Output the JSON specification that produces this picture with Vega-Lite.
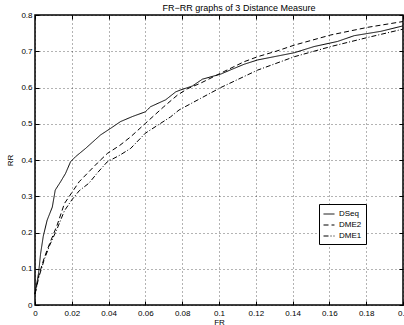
{
  "$schema": "https://vega.github.io/schema/vega-lite/v6.json",
  "width": 368,
  "height": 290,
  "autosize": {"type": "none"},
  "padding": {"left": 35, "top": 15, "right": 1, "bottom": 20},
  "background": "white",
  "config": {
    "font": "Liberation Sans",
    "view": {"stroke": "black", "strokeWidth": 1.5},
    "axis": {"labelFontSize": 8, "titleFontSize": 8, "titleFontWeight": "normal", "labelColor": "black", "titleColor": "black", "labelFlush": false}
  },
  "title": {"text": "FR\u2212RR graphs of 3 Distance Measure", "fontSize": 9, "fontWeight": "normal", "offset": -2, "dx": 20, "color": "black"},
  "data": {"values": [
    {"fr":0,"rr":0.03,"m":"DSeq"},{"fr":0.001,"rr":0.06,"m":"DSeq"},{"fr":0.002,"rr":0.09,"m":"DSeq"},{"fr":0.003,"rr":0.14,"m":"DSeq"},{"fr":0.0045,"rr":0.19,"m":"DSeq"},{"fr":0.0066,"rr":0.234,"m":"DSeq"},{"fr":0.0094,"rr":0.27,"m":"DSeq"},{"fr":0.011,"rr":0.317,"m":"DSeq"},{"fr":0.0139,"rr":0.34,"m":"DSeq"},{"fr":0.0166,"rr":0.363,"m":"DSeq"},{"fr":0.0193,"rr":0.395,"m":"DSeq"},{"fr":0.022,"rr":0.409,"m":"DSeq"},{"fr":0.0275,"rr":0.432,"m":"DSeq"},{"fr":0.0356,"rr":0.469,"m":"DSeq"},{"fr":0.041,"rr":0.487,"m":"DSeq"},{"fr":0.0465,"rr":0.506,"m":"DSeq"},{"fr":0.053,"rr":0.52,"m":"DSeq"},{"fr":0.06,"rr":0.533,"m":"DSeq"},{"fr":0.0628,"rr":0.547,"m":"DSeq"},{"fr":0.071,"rr":0.566,"m":"DSeq"},{"fr":0.0765,"rr":0.588,"m":"DSeq"},{"fr":0.079,"rr":0.593,"m":"DSeq"},{"fr":0.0855,"rr":0.604,"m":"DSeq"},{"fr":0.091,"rr":0.623,"m":"DSeq"},{"fr":0.101,"rr":0.637,"m":"DSeq"},{"fr":0.106,"rr":0.648,"m":"DSeq"},{"fr":0.1136,"rr":0.664,"m":"DSeq"},{"fr":0.121,"rr":0.676,"m":"DSeq"},{"fr":0.131,"rr":0.686,"m":"DSeq"},{"fr":0.141,"rr":0.696,"m":"DSeq"},{"fr":0.1517,"rr":0.713,"m":"DSeq"},{"fr":0.1644,"rr":0.727,"m":"DSeq"},{"fr":0.1735,"rr":0.743,"m":"DSeq"},{"fr":0.188,"rr":0.755,"m":"DSeq"},{"fr":0.2,"rr":0.77,"m":"DSeq"},
    {"fr":0,"rr":0.03,"m":"DME2"},{"fr":0.002,"rr":0.08,"m":"DME2"},{"fr":0.005,"rr":0.13,"m":"DME2"},{"fr":0.008,"rr":0.17,"m":"DME2"},{"fr":0.012,"rr":0.22,"m":"DME2"},{"fr":0.016,"rr":0.28,"m":"DME2"},{"fr":0.02,"rr":0.31,"m":"DME2"},{"fr":0.024,"rr":0.34,"m":"DME2"},{"fr":0.0284,"rr":0.363,"m":"DME2"},{"fr":0.034,"rr":0.392,"m":"DME2"},{"fr":0.0393,"rr":0.418,"m":"DME2"},{"fr":0.046,"rr":0.44,"m":"DME2"},{"fr":0.052,"rr":0.464,"m":"DME2"},{"fr":0.06,"rr":0.501,"m":"DME2"},{"fr":0.07,"rr":0.547,"m":"DME2"},{"fr":0.0774,"rr":0.579,"m":"DME2"},{"fr":0.083,"rr":0.597,"m":"DME2"},{"fr":0.09,"rr":0.612,"m":"DME2"},{"fr":0.1027,"rr":0.644,"m":"DME2"},{"fr":0.1136,"rr":0.671,"m":"DME2"},{"fr":0.121,"rr":0.685,"m":"DME2"},{"fr":0.131,"rr":0.7,"m":"DME2"},{"fr":0.141,"rr":0.717,"m":"DME2"},{"fr":0.1608,"rr":0.745,"m":"DME2"},{"fr":0.1808,"rr":0.766,"m":"DME2"},{"fr":0.2,"rr":0.782,"m":"DME2"},
    {"fr":0,"rr":0.03,"m":"DME1"},{"fr":0.002,"rr":0.075,"m":"DME1"},{"fr":0.005,"rr":0.125,"m":"DME1"},{"fr":0.008,"rr":0.165,"m":"DME1"},{"fr":0.012,"rr":0.21,"m":"DME1"},{"fr":0.016,"rr":0.26,"m":"DME1"},{"fr":0.02,"rr":0.29,"m":"DME1"},{"fr":0.024,"rr":0.315,"m":"DME1"},{"fr":0.0293,"rr":0.336,"m":"DME1"},{"fr":0.034,"rr":0.365,"m":"DME1"},{"fr":0.0393,"rr":0.395,"m":"DME1"},{"fr":0.046,"rr":0.413,"m":"DME1"},{"fr":0.052,"rr":0.432,"m":"DME1"},{"fr":0.06,"rr":0.474,"m":"DME1"},{"fr":0.0737,"rr":0.519,"m":"DME1"},{"fr":0.0783,"rr":0.538,"m":"DME1"},{"fr":0.09,"rr":0.57,"m":"DME1"},{"fr":0.101,"rr":0.6,"m":"DME1"},{"fr":0.121,"rr":0.648,"m":"DME1"},{"fr":0.141,"rr":0.685,"m":"DME1"},{"fr":0.1608,"rr":0.713,"m":"DME1"},{"fr":0.1808,"rr":0.738,"m":"DME1"},{"fr":0.2,"rr":0.761,"m":"DME1"}
  ]},
  "layer": [
    {
      "mark": {"type": "line", "strokeWidth": 1, "color": "black"},
      "encoding": {
        "x": {"field": "fr", "type": "quantitative", "scale": {"domain": [0, 0.2], "nice": false}, "title": "FR",
          "axis": {"values": [0,0.02,0.04,0.06,0.08,0.1,0.12,0.14,0.16,0.18,0.2], "format": "~g", "domain": false, "tickSize": -4, "tickColor": "black", "labelPadding": 8, "titlePadding": 1, "grid": true, "gridColor": "black", "gridDash": [1, 3], "gridOpacity": 0.6}},
        "y": {"field": "rr", "type": "quantitative", "scale": {"domain": [0, 0.8], "nice": false}, "title": "RR",
          "axis": {"values": [0,0.1,0.2,0.3,0.4,0.5,0.6,0.7,0.8], "format": "~g", "domain": false, "tickSize": -4, "tickColor": "black", "labelPadding": 7, "titlePadding": 6, "grid": true, "gridColor": "black", "gridDash": [1, 3], "gridOpacity": 0.6}},
        "strokeDash": {"field": "m", "type": "nominal", "title": null,
          "scale": {"domain": ["DSeq", "DME2", "DME1"], "range": [[1, 0], [5, 3], [5, 2, 1, 2]]},
          "legend": {"orient": "none", "legendX": 284, "legendY": 189, "strokeColor": "black", "fillColor": "white", "padding": 4, "symbolType": "stroke", "symbolSize": 120, "symbolStrokeWidth": 1, "symbolStrokeColor": "black", "labelFontSize": 8, "rowPadding": 1, "labelColor": "black"}},
        "detail": {"field": "m"}
      }
    },
    {
      "mark": {"type": "point", "opacity": 0},
      "encoding": {
        "x": {"field": "fr", "type": "quantitative", "axis": {"orient": "top", "values": [0,0.02,0.04,0.06,0.08,0.1,0.12,0.14,0.16,0.18,0.2], "labels": false, "title": null, "domain": false, "grid": false, "tickSize": -4, "tickColor": "black"}},
        "y": {"field": "rr", "type": "quantitative", "axis": {"orient": "right", "values": [0,0.1,0.2,0.3,0.4,0.5,0.6,0.7,0.8], "labels": false, "title": null, "domain": false, "grid": false, "tickSize": -4, "tickColor": "black"}}
      }
    }
  ],
  "resolve": {"axis": {"x": "independent", "y": "independent"}}
}
